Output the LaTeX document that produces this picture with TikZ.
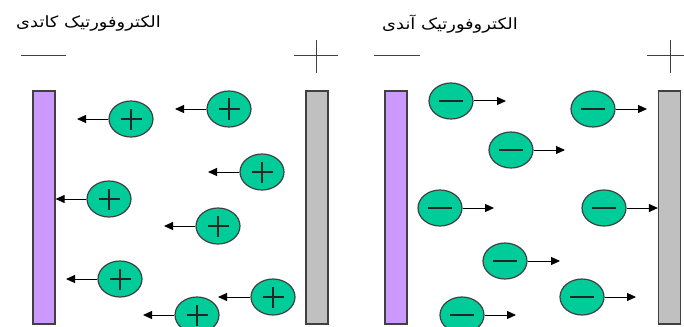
\documentclass[tikz,border=0pt]{standalone}
\usepackage{fontspec}
\newfontfamily\arabicfont[Script=Arabic]{DejaVu Sans}
\TeXXeTstate=1
\usetikzlibrary{shapes.geometric,arrows.meta}
\definecolor{ionfill}{HTML}{00CC99}
\definecolor{cathfill}{HTML}{CC99FF}
\definecolor{anodfill}{HTML}{C0C0C0}
\definecolor{edge}{HTML}{404040}
\tikzset{
  ion/.style={ellipse, draw=edge, line width=1.2pt, fill=ionfill,
    minimum width=44pt, minimum height=36pt, inner sep=0pt},
  posion/.style={ion, path picture={
    \draw[line width=1.3pt,black!85] ([xshift=-10.5pt]path picture bounding box.center) -- ([xshift=10.5pt]path picture bounding box.center);
    \draw[line width=1.3pt,black!85] ([yshift=-10.5pt]path picture bounding box.center) -- ([yshift=10.5pt]path picture bounding box.center);}},
  negion/.style={ion, path picture={
    \draw[line width=1.3pt,black!85] ([xshift=-12pt]path picture bounding box.center) -- ([xshift=12pt]path picture bounding box.center);}},
  bar/.style={rectangle, draw=edge, line width=1.2pt, minimum width=22pt, minimum height=233pt, inner sep=0pt},
  mv/.style={-{Triangle[length=9pt,width=8pt]}, line width=1pt, black},
  sign/.style={line width=1pt, edge},
  title/.style={font=\arabicfont\fontsize{15.5}{18}\selectfont, inner sep=0pt}
}
\begin{document}
\begin{tikzpicture}[x=1pt,y=-1pt]
\useasboundingbox (0,0) rectangle (684,326);
% titles
\node[title] (t1) at (88.5,24) {\scalebox{1.15}[1]{\beginR الکتروفورتیک کاتدی\endR}};
\node[title] (t2) at (450,24) {\scalebox{1.15}[1]{\beginR الکتروفورتیک آندی\endR}};
% electrode signs
\draw[sign] (21,55.7) -- (66,55.7);
\draw[sign] (294,55.7) -- (338,55.7);
\draw[sign] (316,40) -- (316,73);
\draw[sign] (374,55.7) -- (420,55.7);
\draw[sign] (647,55.7) -- (692,55.7);
\draw[sign] (670,40) -- (670,73);
% bars
\node[bar, fill=cathfill] (c1) at (44,207.5) {};
\node[bar, fill=anodfill] (a1) at (317,207.5) {};
\node[bar, fill=cathfill] (c2) at (396,207.5) {};
\node[bar, fill=anodfill] (a2) at (669.5,207.5) {};
% positive ions (left panel)
\node[posion] (p1) at (131,119) {};
\node[posion] (p2) at (229,109) {};
\node[posion] (p3) at (262,172) {};
\node[posion] (p4) at (109,199) {};
\node[posion] (p5) at (218,226) {};
\node[posion] (p6) at (120,279) {};
\node[posion] (p7) at (273,297) {};
\node[posion] (p8) at (197,315) {};
\coordinate (q1) at (77,119);
\coordinate (q2) at (175,109);
\coordinate (q3) at (208,172);
\coordinate (q5) at (164,226);
\coordinate (q6) at (66,279);
\coordinate (q7) at (218,297);
\coordinate (q8) at (143,315);
\draw[mv] (p1.west) -- (q1);
\draw[mv] (p2.west) -- (q2);
\draw[mv] (p3.west) -- (q3);
\draw[mv] (p4.west) -- (c1.east |- p4.west);
\draw[mv] (p5.west) -- (q5);
\draw[mv] (p6.west) -- (q6);
\draw[mv] (p7.west) -- (q7);
\draw[mv] (p8.west) -- (q8);
% negative ions (right panel)
\node[negion] (n1) at (451,101) {};
\node[negion] (n2) at (593,109) {};
\node[negion] (n3) at (511,150) {};
\node[negion] (n4) at (440,208) {};
\node[negion] (n5) at (604,208) {};
\node[negion] (n6) at (505,261) {};
\node[negion] (n7) at (582,297) {};
\node[negion] (n8) at (462,315) {};
\coordinate (m1) at (506,101);
\coordinate (m2) at (647,109);
\coordinate (m3) at (565,150);
\coordinate (m4) at (494,208);
\coordinate (m6) at (560,261);
\coordinate (m7) at (636,297);
\coordinate (m8) at (516,315);
\draw[mv] (n1.east) -- (m1);
\draw[mv] (n2.east) -- (m2);
\draw[mv] (n3.east) -- (m3);
\draw[mv] (n4.east) -- (m4);
\draw[mv] (n5.east) -- (a2.west |- n5.east);
\draw[mv] (n6.east) -- (m6);
\draw[mv] (n7.east) -- (m7);
\draw[mv] (n8.east) -- (m8);
\end{tikzpicture}
\end{document}
